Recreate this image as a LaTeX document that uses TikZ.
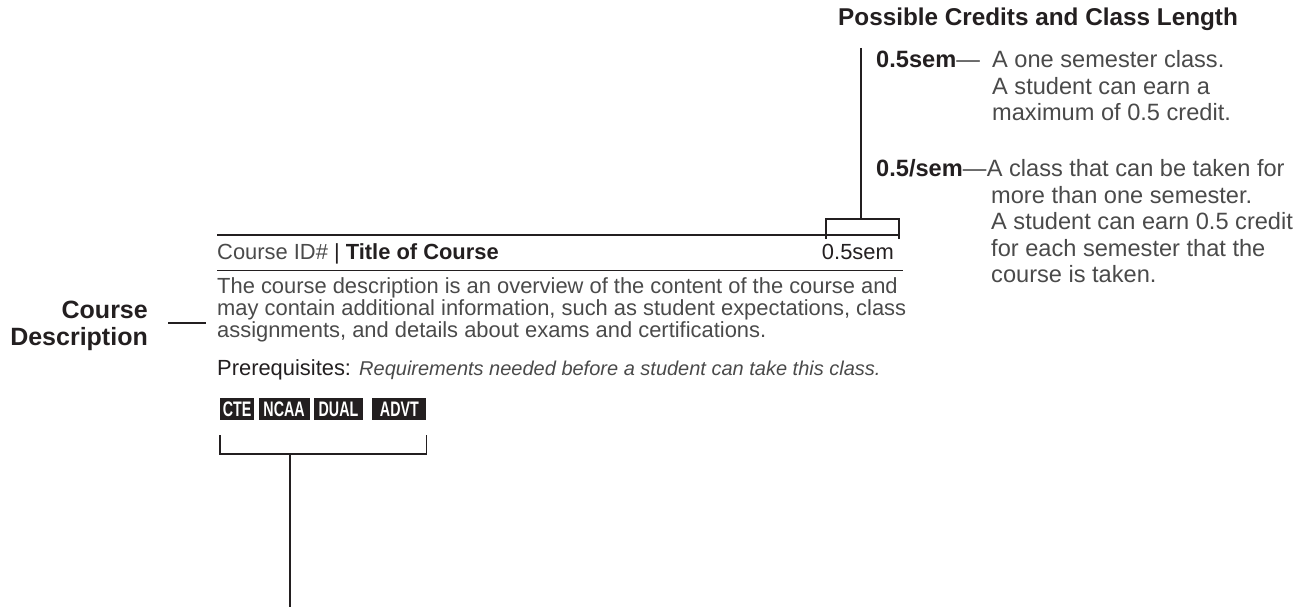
\documentclass[tikz,border=0pt]{standalone}
\usepackage{fontspec}
\setmainfont{Liberation Sans}
\newfontfamily\tagfont[FakeStretch=0.68]{Liberation Sans}
\usetikzlibrary{positioning,calc}
\definecolor{ink}{HTML}{231F20}
\definecolor{copy}{HTML}{4A4A4A}

\begin{document}
\begin{tikzpicture}[
    x=1pt, y=-1pt,
    heading/.style={
      font=\fontsize{25}{27}\selectfont\bfseries,
      text=ink,
      inner sep=0pt
    },
    bodytext/.style={
      font=\fontsize{21.9}{22}\selectfont,
      text=copy,
      inner sep=0pt,
      align=left
    },
    sidetext/.style={
      font=\fontsize{23.6}{26.5}\selectfont,
      text=copy,
      inner sep=0pt,
      align=left
    },
    tag/.style={
      fill=ink,
      text=white,
      font=\fontsize{21}{21}\selectfont\tagfont\bfseries,
      inner xsep=1pt,
      inner ysep=0pt,
      minimum height=22pt
    },
    toprule/.style={ink, line width=1.6pt},
    subrule/.style={ink, line width=1pt},
    link/.style={ink, line width=1.1pt}
  ]
    \useasboundingbox (0,0) rectangle (1314,609);

    % Course entry: header row between two rules
    \draw[toprule] (217,235) -- (900,235);
    \node[bodytext, anchor=base west] (title) at (217,260)
      {Course ID\# {\color{ink}|} \textcolor{ink}{\bfseries Title of Course}};
    \node[bodytext, anchor=base east] (credit) at (894,260) {\color{ink}0.5sem};
    \draw[subrule] (217,271) -- (903,271);

    % Description and prerequisites (anchored on the last line)
    \node[bodytext, anchor=base west] (desc) at (217,338)
      {The course description is an overview of the content of the course and\\
       may contain additional information, such as student expectations, class\\
       assignments, and details about exams and certifications.};
    \node[bodytext, anchor=base west] (prereq) at (217,376)
      {\textcolor{ink}{Prerequisites:} {\fontsize{20}{22}\selectfont\itshape Requirements needed before a student can take this class.}};

    % Course tags
    \node[tag, anchor=north west, minimum width=34pt] (cte) at (220,398) {CTE};
    \node[tag, right=4pt of cte, minimum width=51pt] (ncaa) {NCAA};
    \node[tag, right=4pt of ncaa, minimum width=49pt] (dual) {DUAL};
    \node[tag, right=9pt of dual, minimum width=54pt] (advt) {ADVT};

    % Bracket under the tags
    \coordinate (tagstem) at (290,454);
    \coordinate (tagend) at (290,607);
    \draw[link] ($(cte.south west)+(0,15)$) |- (tagstem) -| ($(advt.south east)+(0,15)$);
    \draw[link] (tagstem) -- (tagend);

    % Left label
    \node[heading, align=right, anchor=base east] (cdlabel) at (148,345) {Course\\Description};
    \coordinate (cdstart) at (168,323);
    \coordinate (cdend) at (206,323);
    \draw[link] (cdstart) -- (cdend);

    % Right legend: credits and class length
    \node[heading, font=\fontsize{24.3}{27}\selectfont\bfseries, anchor=base west] (credhead) at (838,26)
      {Possible Credits and Class Length};

    \node[sidetext, anchor=base west] (sem) at (876,68)
      {\textcolor{ink}{\bfseries 0.5sem}---};
    \node[sidetext, anchor=base west] (semtext) at (992,121)
      {A one semester class.\\A student can earn a\\maximum of 0.5 credit.};

    \node[sidetext, anchor=base west] (persem) at (876,177)
      {\textcolor{ink}{\bfseries 0.5/sem}---};
    \node[sidetext, anchor=base west] (persemfirst) at (persem.base east)
      {A class that can be taken for};
    \node[sidetext, anchor=base west] (persemtext) at (991,283)
      {more than one semester.\\A student can earn 0.5 credit\\for each semester that the\\course is taken.};

    % Bracket from the legend down to the credit column
    \coordinate (credtop) at (861,48);
    \coordinate (credfork) at (861,219);
    \draw[link] (credtop) -- (credfork);
    \draw[link] (826,239) |- (credfork) -| (899,239);

  \end{tikzpicture}
\end{document}
